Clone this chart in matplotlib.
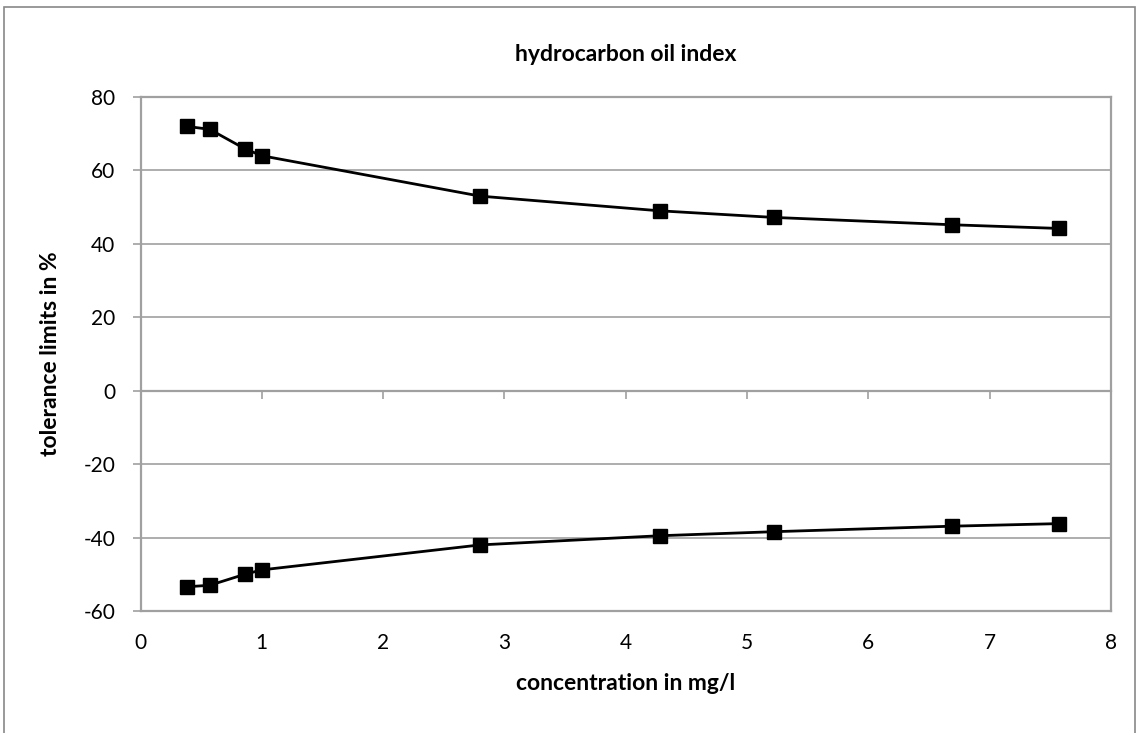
import numpy as np
import matplotlib
matplotlib.use("Agg")
from matplotlib import pyplot as plt
from matplotlib.patches import Rectangle

# values
concentration = [0.38, 0.57, 0.86, 1.0, 2.8, 4.28, 5.22, 6.69, 7.57]
upper_limit = [72, 71.2, 65.9, 64.0, 53.0, 49.0, 47.2, 45.2, 44.2]
lower_limit = [-53.4, -53.0, -50.0, -48.8, -42.0, -39.5, -38.4, -36.9, -36.2]

x_ticks = [0, 1, 2, 3, 4, 5, 6, 7, 8]
y_ticks = [-60, -40, -20, 0, 20, 40, 60, 80]

title = "hydrocarbon oil index"
x_label = "concentration in mg/l"
y_label = "tolerance limits in %"

grid_col = "#a0a0a0"
font = ["Lato", "DejaVu Sans"]

plt.rcParams["font.family"] = font

fig = plt.figure(figsize=(11.39, 7.33), dpi=100)
fig.patches.append(Rectangle((4 / 1139, -0.01), 1131 / 1139, 1 - 7 / 733 + 0.01,
                             transform=fig.transFigure, fill=False,
                             edgecolor="#888888", linewidth=1.2))

ax = fig.add_axes([140.5 / 1139, 1 - 611 / 733, (1111 - 140.5) / 1139, (611 - 97) / 733])

for y in (upper_limit, lower_limit):
    ax.plot(concentration, y, color="black", linewidth=2, marker="s",
            markersize=10, markerfacecolor="black", markeredgecolor="black",
            zorder=3)

ax.set_xlim(0, 8)
ax.set_ylim(-60, 80)
ax.set_yticks(y_ticks)
ax.set_xticks(x_ticks)
ax.set_xticklabels([str(v) for v in x_ticks])
ax.set_yticklabels([str(v) for v in y_ticks])

ax.yaxis.grid(True, color=grid_col, linewidth=1.2)
ax.set_axisbelow(True)

for s in ax.spines.values():
    s.set_color(grid_col)
    s.set_linewidth(1.6)

ax.tick_params(axis="y", length=6, width=1.2, color=grid_col, pad=12,
               labelsize=15, labelcolor="black")
ax.tick_params(axis="x", length=0, pad=16, labelsize=15, labelcolor="black")

# horizontal axis crosses at zero, ticks hang from it
sec = ax.secondary_xaxis(60 / 140)
sec.set_xticks(x_ticks)
sec.set_xticklabels([])
sec.tick_params(axis="x", direction="out", length=6, width=1.2, color=grid_col)
sec.spines["bottom"].set_color(grid_col)
sec.spines["bottom"].set_linewidth(1.6)

ax.set_title(title, fontsize=16.5, fontweight="bold", pad=26)
ax.set_xlabel(x_label, fontsize=16.5, fontweight="bold", labelpad=14)
ax.set_ylabel(y_label, fontsize=16.5, fontweight="bold", labelpad=16)

fig.savefig("out.png", dpi=100)
